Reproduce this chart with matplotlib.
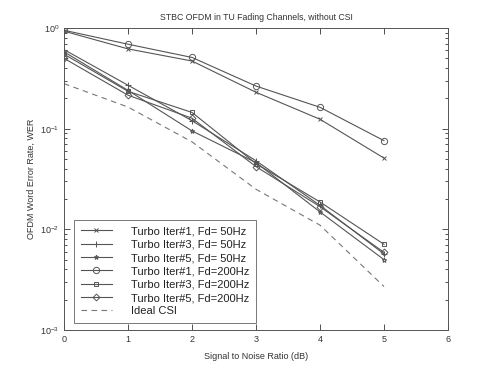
import matplotlib
matplotlib.use("Agg")
import matplotlib.pyplot as plt
from matplotlib.ticker import LogLocator, NullFormatter

plt.rcParams["font.family"] = ["Liberation Sans", "DejaVu Sans"]

snr = [0, 1, 2, 3, 4, 5]
iter1_50 = [0.93, 0.62, 0.47, 0.23, 0.124, 0.051]
iter3_50 = [0.61, 0.27, 0.12, 0.048, 0.0173, 0.0057]
iter5_50 = [0.58, 0.24, 0.095, 0.046, 0.0149, 0.0050]
iter1_200 = [0.95, 0.69, 0.51, 0.265, 0.163, 0.076]
iter3_200 = [0.55, 0.235, 0.145, 0.045, 0.0187, 0.0071]
iter5_200 = [0.50, 0.215, 0.127, 0.042, 0.0168, 0.0059]
ideal_csi = [0.28, 0.164, 0.074, 0.025, 0.011, 0.0027]

labels = ["Turbo Iter#1, Fd= 50Hz", "Turbo Iter#3, Fd= 50Hz", "Turbo Iter#5, Fd= 50Hz",
          "Turbo Iter#1, Fd=200Hz", "Turbo Iter#3, Fd=200Hz", "Turbo Iter#5, Fd=200Hz",
          "Ideal CSI"]

fig = plt.figure(figsize=(4.95, 3.71), dpi=100)
ax = fig.add_axes([64/495, 1-330/371, 384/495, 302/371])
c = "#555555"
kw = dict(color=c, lw=0.8, mfc="none", mec=c, mew=0.7)
ax.semilogy(snr, iter1_50, marker="x", ms=3.5, label=labels[0], **kw)
ax.semilogy(snr, iter3_50, marker="+", ms=4.5, label=labels[1], **kw)
ax.semilogy(snr, iter5_50, marker="*", ms=3.5, label=labels[2], **kw)
ax.semilogy(snr, iter1_200, marker="o", ms=4.5, label=labels[3], **kw)
ax.semilogy(snr, iter3_200, marker="s", ms=3.5, label=labels[4], **kw)
ax.semilogy(snr, iter5_200, marker="D", ms=3.5, label=labels[5], **kw)
ax.semilogy(snr, ideal_csi, color="#777777", lw=0.8, ls=(0, (5, 4)), label=labels[6])

ax.set_xlim(0, 6)
ax.set_ylim(1e-3, 1)
ax.set_xticks(range(7))
ax.yaxis.set_minor_locator(LogLocator(base=10, subs=range(2, 10)))
ax.yaxis.set_minor_formatter(NullFormatter())
ax.tick_params(which="both", direction="in", top=True, right=True, labelsize=6.5, colors="#333333", width=0.6)
ax.tick_params(which="major", length=4)
ax.tick_params(which="minor", length=2)
for s in ax.spines.values():
    s.set_color("#555555")
    s.set_linewidth(0.7)
ax.set_title("STBC OFDM in TU Fading Channels, without CSI", fontsize=6.3, color="#333333", pad=6)
ax.set_xlabel("Signal to Noise Ratio (dB)", fontsize=6.5, color="#333333", labelpad=6)
ax.set_ylabel("OFDM Word Error Rate, WER", fontsize=6.5, color="#333333", labelpad=3)

leg = ax.legend(loc="lower left", fontsize=8, frameon=True, fancybox=False, edgecolor="#555555",
                handlelength=2.8, handletextpad=1.7, borderpad=0.6, labelspacing=0.3,
                borderaxespad=0, bbox_to_anchor=(0.026, 0.023))
leg.get_frame().set_linewidth(0.7)
for t in leg.get_texts():
    t.set_color("#222222")

fig.savefig("out.png", dpi=100)
